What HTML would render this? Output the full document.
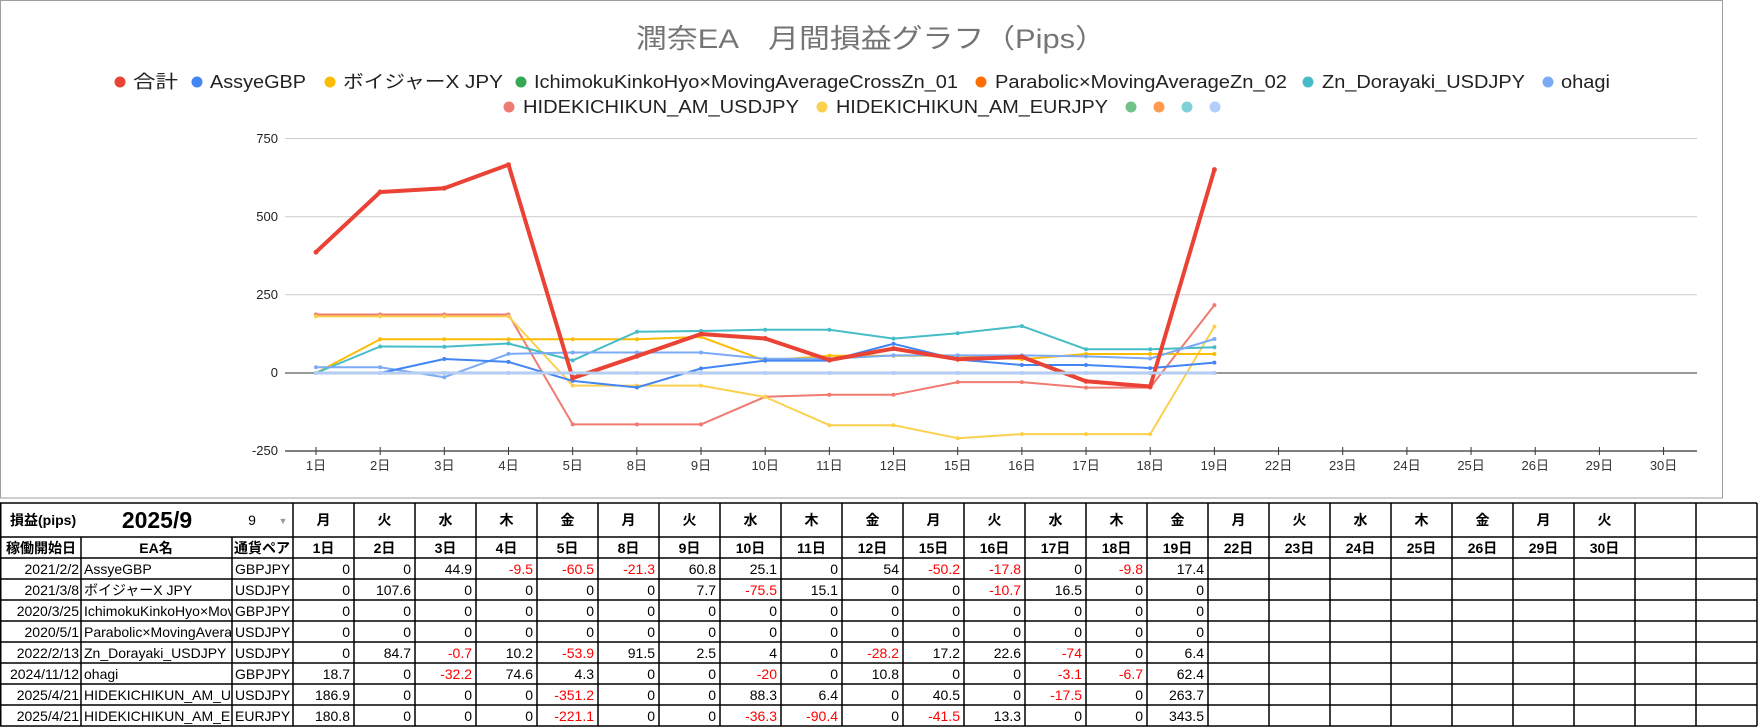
<!DOCTYPE html>
<html><head><meta charset="utf-8"><style>
html,body{margin:0;padding:0;background:#fff;}
svg{display:block;}
text{font-family:"Liberation Sans","Noto Sans CJK JP",sans-serif;}
</style></head><body>
<svg width="1763" height="727" xmlns="http://www.w3.org/2000/svg">
<rect x="0.5" y="0.5" width="1722" height="497.5" fill="#fff" stroke="#9e9e9e" stroke-width="1"/>
<text x="871" y="48" font-size="27" fill="#757575" text-anchor="middle" textLength="470" lengthAdjust="spacingAndGlyphs">潤奈EA　月間損益グラフ（Pips）</text>
<g font-size="18" fill="#222">
<circle cx="120" cy="82" r="5.5" fill="#ea4335"/><text x="133" y="88" textLength="45" lengthAdjust="spacingAndGlyphs">合計</text>
<circle cx="197" cy="82" r="5.5" fill="#4285f4"/><text x="210" y="88" textLength="96" lengthAdjust="spacingAndGlyphs">AssyeGBP</text>
<circle cx="330" cy="82" r="5.5" fill="#fbbc04"/><text x="343" y="88" textLength="160" lengthAdjust="spacingAndGlyphs">ボイジャーX JPY</text>
<circle cx="521" cy="82" r="5.5" fill="#34a853"/><text x="534" y="88" textLength="424" lengthAdjust="spacingAndGlyphs">IchimokuKinkoHyo×MovingAverageCrossZn_01</text>
<circle cx="981" cy="82" r="5.5" fill="#ff6d01"/><text x="995" y="88" textLength="292" lengthAdjust="spacingAndGlyphs">Parabolic×MovingAverageZn_02</text>
<circle cx="1308" cy="82" r="5.5" fill="#46bdc6"/><text x="1322" y="88" textLength="203" lengthAdjust="spacingAndGlyphs">Zn_Dorayaki_USDJPY</text>
<circle cx="1548" cy="82" r="5.5" fill="#7baaf7"/><text x="1561" y="88" textLength="49" lengthAdjust="spacingAndGlyphs">ohagi</text>
<circle cx="509" cy="107" r="5.5" fill="#f07b72"/><text x="523" y="113" textLength="276" lengthAdjust="spacingAndGlyphs">HIDEKICHIKUN_AM_USDJPY</text>
<circle cx="822" cy="107" r="5.5" fill="#fcd04f"/><text x="836" y="113" textLength="272" lengthAdjust="spacingAndGlyphs">HIDEKICHIKUN_AM_EURJPY</text>
<circle cx="1131" cy="107" r="5.5" fill="#71c287"/>
<circle cx="1159" cy="107" r="5.5" fill="#ff994d"/>
<circle cx="1187" cy="107" r="5.5" fill="#7ed1d7"/>
<circle cx="1215" cy="107" r="5.5" fill="#b3cefb"/>
</g>
<g stroke="#cccccc" stroke-width="1">
<line x1="285" y1="138.5" x2="1697" y2="138.5"/>
<line x1="285" y1="216.7" x2="1697" y2="216.7"/>
<line x1="285" y1="294.8" x2="1697" y2="294.8"/>
</g>
<g font-size="13" fill="#222" text-anchor="end">
<text x="278" y="143">750</text><text x="278" y="221">500</text><text x="278" y="299">250</text><text x="278" y="377">0</text><text x="278" y="455">-250</text>
</g>
<line x1="285" y1="373" x2="1697" y2="373" stroke="#333" stroke-width="1"/>
<line x1="285" y1="451" x2="1697" y2="451" stroke="#333" stroke-width="1.3"/>
<g id="ticks" stroke="#333" stroke-width="1"></g>
<g id="xl" font-size="13" fill="#333" text-anchor="middle"></g>
<g id="series" fill="none" stroke-linejoin="round"></g>
<g id="tbl"></g>
</svg>
<script>
var NS="http://www.w3.org/2000/svg";
function el(p,t,a,txt){var e=document.createElementNS(NS,t);for(var k in a)e.setAttribute(k,a[k]);if(txt!==undefined)e.textContent=txt;p.appendChild(e);return e;}
var days=["1","2","3","4","5","8","9","10","11","12","15","16","17","18","19","22","23","24","25","26","29","30"];
var wd=["月","火","水","木","金"];
var tk=document.getElementById("ticks"),xl=document.getElementById("xl");
for(var i=0;i<22;i++){var x=316+i*64.17;el(tk,"line",{x1:x,y1:447,x2:x,y2:455});el(xl,"text",{x:x,y:470},days[i]+"日");}
var rows=[
["2021/2/2","AssyeGBP","GBPJPY",[0,0,44.9,-9.5,-60.5,-21.3,60.8,25.1,0,54,-50.2,-17.8,0,-9.8,17.4]],
["2021/3/8","ボイジャーX JPY","USDJPY",[0,107.6,0,0,0,0,7.7,-75.5,15.1,0,0,-10.7,16.5,0,0]],
["2020/3/25","IchimokuKinkoHyo×MovingAverageCrossZn_01","GBPJPY",[0,0,0,0,0,0,0,0,0,0,0,0,0,0,0]],
["2020/5/1","Parabolic×MovingAverageZn_02","USDJPY",[0,0,0,0,0,0,0,0,0,0,0,0,0,0,0]],
["2022/2/13","Zn_Dorayaki_USDJPY","USDJPY",[0,84.7,-0.7,10.2,-53.9,91.5,2.5,4,0,-28.2,17.2,22.6,-74,0,6.4]],
["2024/11/12","ohagi","GBPJPY",[18.7,0,-32.2,74.6,4.3,0,0,-20,0,10.8,0,0,-3.1,-6.7,62.4]],
["2025/4/21","HIDEKICHIKUN_AM_USDJPY","USDJPY",[186.9,0,0,0,-351.2,0,0,88.3,6.4,0,40.5,0,-17.5,0,263.7]],
["2025/4/21","HIDEKICHIKUN_AM_EURJPY","EURJPY",[180.8,0,0,0,-221.1,0,0,-36.3,-90.4,0,-41.5,13.3,0,0,343.5]]];
var cols=["#4285f4","#fbbc04","#34a853","#ff6d01","#46bdc6","#7baaf7","#f07b72","#fcd04f"];
function X(i){return 316+i*64.17;} function Y(v){return 373-v*0.3128;}
var sg=document.getElementById("series");
function draw(vals,c,w,r){var pts=[];var s=0;for(var i=0;i<15;i++){s+=vals[i];pts.push(X(i).toFixed(1)+","+Y(s).toFixed(1));}
el(sg,"polyline",{points:pts.join(" "),stroke:c,"stroke-width":w});
for(var i=0;i<15;i++){var p=pts[i].split(",");el(sg,"circle",{cx:p[0],cy:p[1],r:r,fill:c,stroke:"none"});}}
var tot=[];for(var i=0;i<15;i++){var s=0;rows.forEach(function(r){s+=r[3][i];});tot.push(s);}
var z=[0,0,0,0,0,0,0,0,0,0,0,0,0,0,0];
var order=[6,7,1,4,5,0];
order.forEach(function(k){draw(rows[k][3],cols[k],2,2);});
draw(tot,"#ea4335",4,2.5);
["#71c287","#ff994d","#7ed1d7","#b3cefb"].forEach(function(c){draw(z,c,2.5,2);});
var t=document.getElementById("tbl");
var hy=[503,537,558];for(var i=1;i<=8;i++)hy.push(558+i*21);
hy.forEach(function(y){el(t,"line",{x1:0,y1:y,x2:1757,y2:y,stroke:"#000","stroke-width":1.5});});
var vx=[0.75,81,232,293];for(var i=1;i<=24;i++)vx.push(293+i*61);
vx.forEach(function(x){var y1=(x==81||x==232)?537:503;el(t,"line",{x1:x,y1:y1,x2:x,y2:726,stroke:"#000","stroke-width":1.5});});
el(t,"text",{x:10,y:525,"font-size":14,"font-weight":"bold"},"損益(pips)");
el(t,"text",{x:157,y:528,"font-size":23,"font-weight":"bold","text-anchor":"middle"},"2025/9");
el(t,"text",{x:252,y:525,"font-size":14,"text-anchor":"middle"},"9");
el(t,"text",{x:283,y:524,"font-size":9,fill:"#999","text-anchor":"middle"},"▼");
el(t,"text",{x:41,y:553,"font-size":14,"font-weight":"bold","text-anchor":"middle"},"稼働開始日");
el(t,"text",{x:156,y:553,"font-size":14,"font-weight":"bold","text-anchor":"middle"},"EA名");
el(t,"text",{x:262,y:553,"font-size":14,"font-weight":"bold","text-anchor":"middle"},"通貨ペア");
for(var i=0;i<22;i++){var cx=293+i*61+30.5;
el(t,"text",{x:cx,y:525,"font-size":14,"font-weight":"bold","text-anchor":"middle"},wd[i%5]);
el(t,"text",{x:cx,y:553,"font-size":14,"font-weight":"bold","text-anchor":"middle"},days[i]+"日");}
var cp=el(t,"clipPath",{id:"cpn"});el(cp,"rect",{x:81,y:558,width:150,height:170});
rows.forEach(function(r,ri){var y=558+ri*21+16;
el(t,"text",{x:79,y:y,"font-size":14,"text-anchor":"end"},r[0]);
el(t,"text",{x:84,y:y,"font-size":14,"clip-path":"url(#cpn)"},r[1]);
el(t,"text",{x:235,y:y,"font-size":14},r[2]);
for(var i=0;i<15;i++){var v=r[3][i];el(t,"text",{x:293+(i+1)*61-4,y:y,"font-size":14,"text-anchor":"end",fill:v<0?"#ff0000":"#000"},String(v));}
});
</script>
</body></html>
